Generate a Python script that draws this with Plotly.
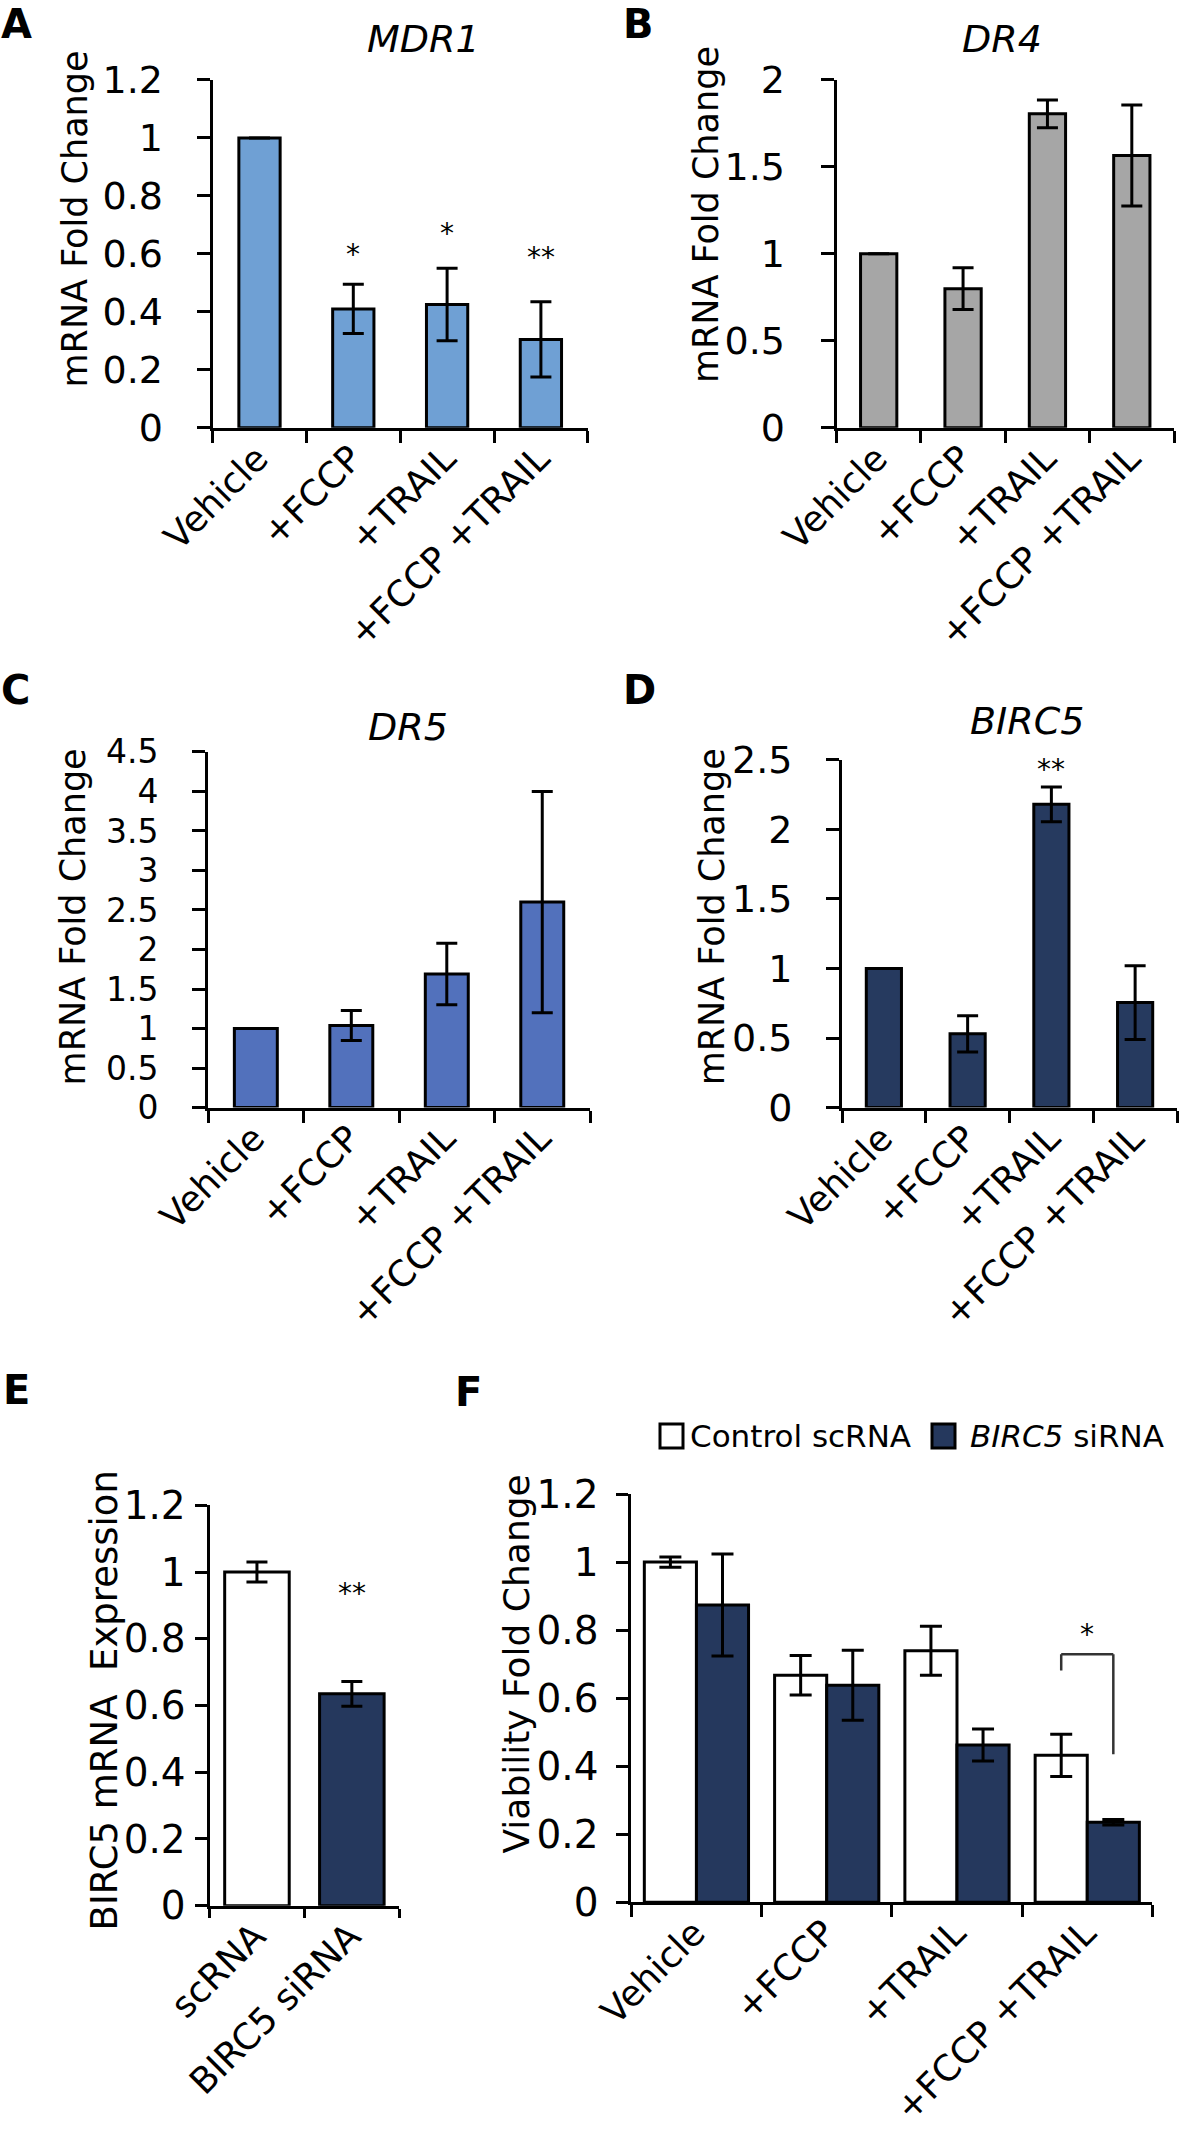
import plotly.graph_objects as go

W, H = 1180, 2133
FONT = "DejaVu Sans"

# ---------------- data ----------------
categories = ["Vehicle", "+FCCP", "+TRAIL", "+FCCP +TRAIL"]

mdr1_mean = [1.0, 0.41, 0.425, 0.305]
mdr1_err = [0, 0.085, 0.125, 0.13]
mdr1_sig = ["", "*", "*", "**"]
mdr1_sig_y = [0, 0.624, 0.698, 0.616]

dr4_mean = [1.0, 0.80, 1.805, 1.565]
dr4_err = [0, 0.12, 0.08, 0.29]
dr4_sig = ["", "", "*", ""]
dr4_sig_y = [0, 0, 2.04, 0]

dr5_mean = [1.0, 1.04, 1.69, 2.6]
dr5_err = [0, 0.19, 0.39, 1.4]
dr5_sig = ["", "", "", ""]
dr5_sig_y = [0, 0, 0, 0]

birc5_mean = [1.0, 0.53, 2.18, 0.755]
birc5_err = [0, 0.13, 0.125, 0.265]
birc5_sig = ["", "", "**", ""]
birc5_sig_y = [0, 0, 2.485, 0]

e_categories = ["scRNA", "BIRC5 siRNA"]
e_mean = [1.0, 0.635]
e_err = [0.03, 0.037]
e_sig = ["", "**"]
e_sig_y = [0, 0.959]

f_ctrl_mean = [1.0, 0.667, 0.739, 0.432]
f_ctrl_err = [0.015, 0.058, 0.072, 0.062]
f_sirna_mean = [0.874, 0.638, 0.462, 0.235]
f_sirna_err = [0.15, 0.103, 0.047, 0.008]
f_bracket_y = [0.681, 0.729, 0.435]   # left foot, bar height, right foot
f_bracket_sig = "*"
f_bracket_sig_y = 0.812

# ---------------- helpers ----------------
def px_x(p):
    return p / W

def px_y(p):
    return 1 - p / H

XT_SHIFT = -2
XT_STANDOFF = -8

fig = go.Figure()
layout = dict(
    width=W, height=H, autosize=False,
    margin=dict(l=0, r=0, t=0, b=0, pad=0),
    paper_bgcolor="white", plot_bgcolor="white",
    barmode="overlay", showlegend=False,
    font=dict(family=FONT, color="black"),
)
annotations = []
shapes = []

panels = [
    dict(letter="A", title="MDR1", cats=categories, mean=mdr1_mean, err=mdr1_err, sig=mdr1_sig, sig_y=mdr1_sig_y,
         color="#6FA0D4", box=(212.6, 587.8, 79.9, 427.8), ymax=1.2, dtick=0.2, barw=0.44, standoff=26, tsz=38,
         lpos=(0, 0, "top"), tpos=(423, 39.5), ylabel="mRNA Fold Change", ypos=(75, 219.5), ysz=35),
    dict(letter="B", title="DR4", cats=categories, mean=dr4_mean, err=dr4_err, sig=dr4_sig, sig_y=dr4_sig_y,
         color="#A6A6A6", box=(836.5, 1174, 79.9, 427.8), ymax=2.0, dtick=0.5, barw=0.43, standoff=28, tsz=38,
         lpos=(622, 0, "top"), tpos=(1002, 39.5), ylabel="mRNA Fold Change", ypos=(706.6, 214.5), ysz=35),
    dict(letter="C", title="DR5", cats=categories, mean=dr5_mean, err=dr5_err, sig=dr5_sig, sig_y=dr5_sig_y,
         color="#5271BC", box=(208.1, 590, 751.9, 1107.6), ymax=4.5, dtick=0.5, barw=0.45, standoff=27, tsz=33,
         lpos=(0, 690, "middle"), tpos=(408, 727), ylabel="mRNA Fold Change", ypos=(73.4, 917), ysz=35),
    dict(letter="D", title="BIRC5", cats=categories, mean=birc5_mean, err=birc5_err, sig=birc5_sig, sig_y=birc5_sig_y,
         color="#263A5F", box=(842, 1177, 759.8, 1107.6), ymax=2.5, dtick=0.5, barw=0.42, standoff=26, tsz=38,
         lpos=(622, 690, "middle"), tpos=(1027, 720.7), ylabel="mRNA Fold Change", ypos=(712.3, 917), ysz=35),
    dict(letter="E", title="", cats=e_categories, mean=e_mean, err=e_err, sig=e_sig, sig_y=e_sig_y,
         color=["#FFFFFF", "#25385D"], box=(209.5, 399.3, 1505.4, 1905.7), ymax=1.2, dtick=0.2, barw=0.68, standoff=1,
         tsz=39, lpos=(2, 1390, "middle"), tpos=None, ylabel="BIRC5 mRNA  Expression", ypos=(103.5, 1701), ysz=37),
]

for i, p in enumerate(panels, start=1):
    xa = "x" if i == 1 else f"x{i}"
    ya = "y" if i == 1 else f"y{i}"
    x0, x1, y0, y1 = p["box"]
    fig.add_trace(go.Bar(
        x=p["cats"], y=p["mean"], width=p["barw"], xaxis=xa, yaxis=ya,
        marker=dict(color=p["color"], line=dict(color="black", width=3)),
        error_y=dict(type="data", array=p["err"], color="black", thickness=3, width=10.5),
        hoverinfo="skip",
    ))
    layout["xaxis" if i == 1 else f"xaxis{i}"] = dict(
        domain=[px_x(x0), px_x(x1)], anchor=ya, type="category", automargin=False,
        range=[-0.5, len(p["cats"]) - 0.5], tickson="boundaries",
        ticks="outside", ticklen=12 if i != 5 else 9, tickwidth=3, tickcolor="black",
        showline=True, linewidth=3, linecolor="black", showgrid=False, zeroline=False,
        tickangle=-45, tickfont=dict(family=FONT, size=36, color="black"),
        ticklabelshift=XT_SHIFT, ticklabelstandoff=XT_STANDOFF,
    )
    layout["yaxis" if i == 1 else f"yaxis{i}"] = dict(
        domain=[px_y(y1), px_y(y0)], anchor=xa, range=[0, p["ymax"]], dtick=p["dtick"], tick0=0,
        automargin=False,
        ticks="outside", ticklen=13 if i != 5 else 12, tickwidth=3, tickcolor="black",
        showline=True, linewidth=3, linecolor="black", showgrid=False, zeroline=False,
        tickfont=dict(family=FONT, size=p["tsz"], color="black"),
        ticklabelstandoff=p["standoff"],
    )
    annotations.append(dict(text=f"<b>{p['letter']}</b>", x=px_x(p["lpos"][0]), y=px_y(p["lpos"][1]),
                            xref="paper", yref="paper", xanchor="left", yanchor=p["lpos"][2], borderpad=0,
                            showarrow=False, font=dict(family=FONT, size=40, color="black")))
    if p["tpos"]:
        annotations.append(dict(text=f"<i>{p['title']}</i>", x=px_x(p["tpos"][0]), y=px_y(p["tpos"][1]),
                                xref="paper", yref="paper", xanchor="center", yanchor="middle",
                                showarrow=False, font=dict(family=FONT, size=38, color="black")))
    annotations.append(dict(text=p["ylabel"], x=px_x(p["ypos"][0]), y=px_y(p["ypos"][1]),
                            xref="paper", yref="paper", xanchor="center", yanchor="middle", textangle=-90,
                            showarrow=False, font=dict(family=FONT, size=p["ysz"], color="black")))
    for c, s, sy in zip(p["cats"], p["sig"], p["sig_y"]):
        if s:
            annotations.append(dict(text=s, x=c, y=sy, xref=xa, yref=ya, xanchor="center", yanchor="middle",
                                    yshift=-8, showarrow=False, font=dict(family=FONT, size=28, color="black")))

# ---------------- panel F ----------------
fx0, fx1, fy0, fy1 = 631.3, 1152.4, 1494, 1902.3
navy = "#25385D"
fig.add_trace(go.Bar(
    x=categories, y=f_ctrl_mean, width=0.4, offset=-0.4, xaxis="x6", yaxis="y6",
    marker=dict(color="white", line=dict(color="black", width=3)),
    error_y=dict(type="data", array=f_ctrl_err, color="black", thickness=3, width=11),
    hoverinfo="skip",
))
fig.add_trace(go.Bar(
    x=categories, y=f_sirna_mean, width=0.4, offset=0.0, xaxis="x6", yaxis="y6",
    marker=dict(color=navy, line=dict(color="black", width=3)),
    error_y=dict(type="data", array=f_sirna_err, color="black", thickness=3, width=11),
    hoverinfo="skip",
))
layout["xaxis6"] = dict(
    domain=[px_x(fx0), px_x(fx1)], anchor="y6", type="category", automargin=False,
    range=[-0.5, 3.5], tickson="boundaries",
    ticks="outside", ticklen=12, tickwidth=3, tickcolor="black",
    showline=True, linewidth=3, linecolor="black", showgrid=False, zeroline=False,
    tickangle=-45, tickfont=dict(family=FONT, size=36, color="black"),
    ticklabelshift=XT_SHIFT, ticklabelstandoff=XT_STANDOFF,
)
layout["yaxis6"] = dict(
    domain=[px_y(fy1), px_y(fy0)], anchor="x6", range=[0, 1.2], dtick=0.2, tick0=0, automargin=False,
    ticks="outside", ticklen=12, tickwidth=3, tickcolor="black",
    showline=True, linewidth=3, linecolor="black", showgrid=False, zeroline=False,
    tickfont=dict(family=FONT, size=39, color="black"), ticklabelstandoff=10,
)
annotations.append(dict(text="<b>F</b>", x=px_x(454), y=px_y(1392), xref="paper", yref="paper",
                        xanchor="left", yanchor="middle", showarrow=False, borderpad=0,
                        font=dict(family=FONT, size=40, color="black")))
annotations.append(dict(text="Viability Fold Change", x=px_x(515.5), y=px_y(1664), xref="paper", yref="paper",
                        xanchor="center", yanchor="middle", textangle=-90, showarrow=False,
                        font=dict(family=FONT, size=36, color="black")))
gi = 3
lx, rx = gi - 0.2, gi + 0.2
shapes += [
    dict(type="line", xref="x6", yref="y6", x0=lx, x1=lx, y0=f_bracket_y[0], y1=f_bracket_y[1],
         line=dict(color="#333333", width=2.5)),
    dict(type="line", xref="x6", yref="y6", x0=lx, x1=rx, y0=f_bracket_y[1], y1=f_bracket_y[1],
         line=dict(color="#333333", width=2.5)),
    dict(type="line", xref="x6", yref="y6", x0=rx, x1=rx, y0=f_bracket_y[1], y1=f_bracket_y[2],
         line=dict(color="#333333", width=2.5)),
]
annotations.append(dict(text=f_bracket_sig, x=gi, y=f_bracket_sig_y, xref="x6", yref="y6",
                        xanchor="center", yanchor="middle", yshift=-8, showarrow=False,
                        font=dict(family=FONT, size=28, color="black")))
shapes += [
    dict(type="rect", xref="paper", yref="paper", x0=px_x(660), x1=px_x(683), y0=px_y(1448), y1=px_y(1424),
         fillcolor="white", line=dict(color="black", width=3)),
    dict(type="rect", xref="paper", yref="paper", x0=px_x(932), x1=px_x(955), y0=px_y(1448), y1=px_y(1424),
         fillcolor=navy, line=dict(color="black", width=3)),
]
annotations.append(dict(text="Control scRNA", x=px_x(688), y=px_y(1436), xref="paper", yref="paper",
                        xanchor="left", yanchor="middle", showarrow=False,
                        font=dict(family=FONT, size=31, color="black")))
annotations.append(dict(text="<i>BIRC5</i> siRNA", x=px_x(968), y=px_y(1436), xref="paper", yref="paper",
                        xanchor="left", yanchor="middle", showarrow=False,
                        font=dict(family=FONT, size=31, color="black")))

layout["annotations"] = annotations
layout["shapes"] = shapes
fig.update_layout(**layout)
fig.write_html("out.html", config={"displayModeBar": False},
               post_script="document.body.style.margin='0';document.body.style.overflow='hidden';")
